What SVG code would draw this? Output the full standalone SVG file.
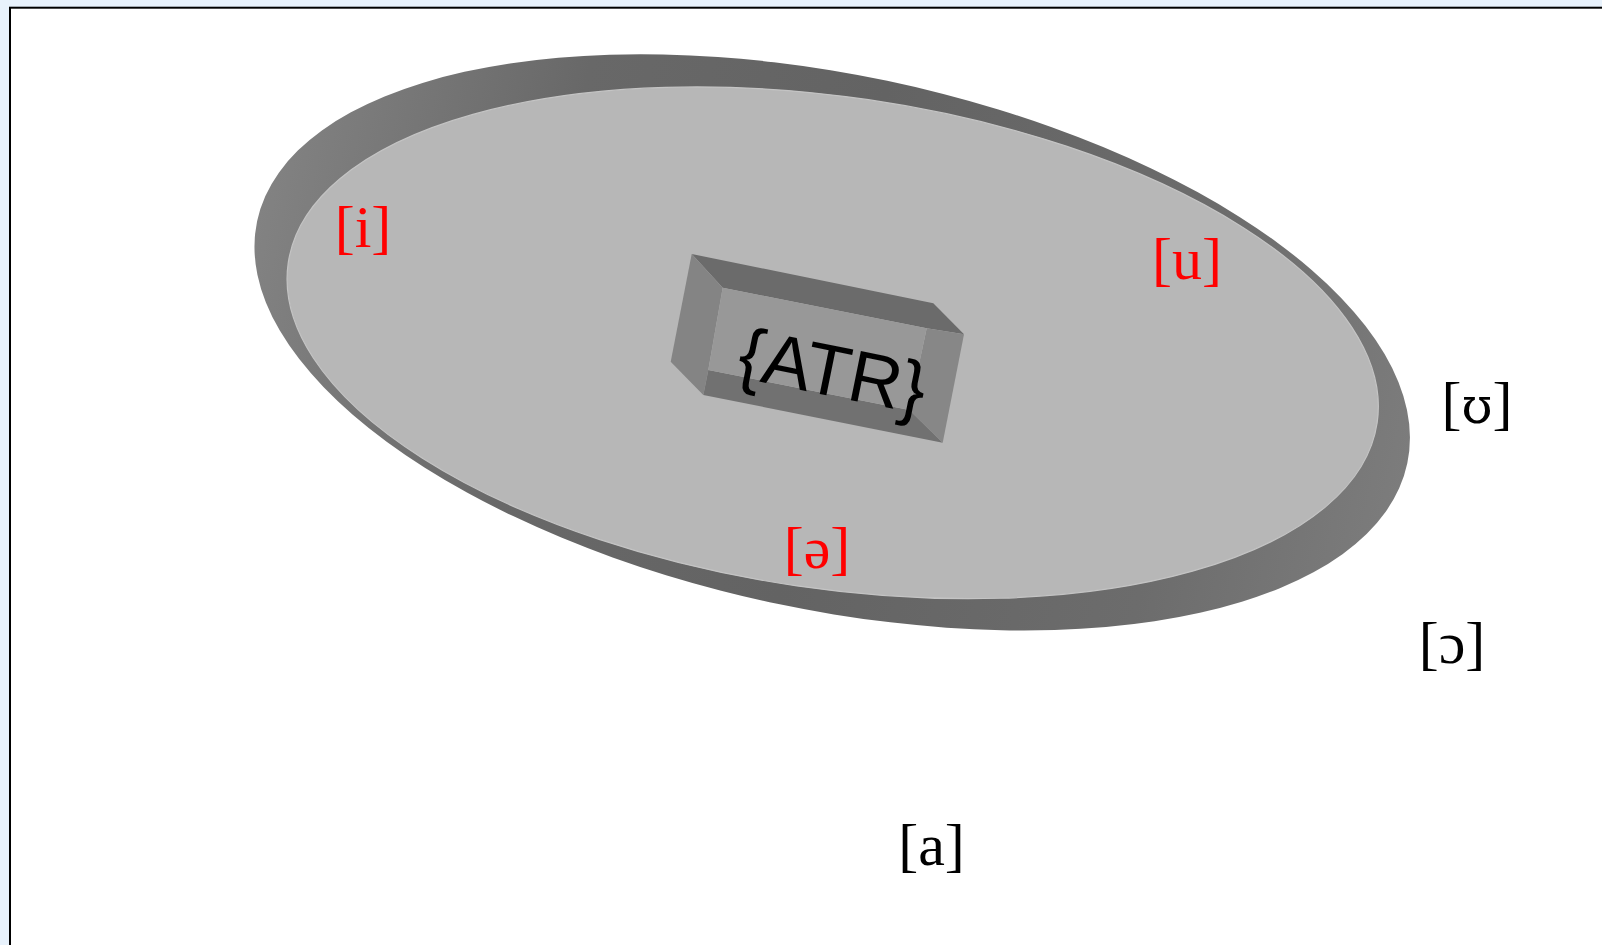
<svg xmlns="http://www.w3.org/2000/svg" width="1602" height="945" viewBox="0 0 1602 945">
  <defs>
    <linearGradient id="rim" x1="0" y1="0" x2="1" y2="0">
      <stop offset="0" stop-color="#828282"/>
      <stop offset="0.25" stop-color="#686868"/>
      <stop offset="0.5" stop-color="#636363"/>
      <stop offset="0.8" stop-color="#6c6c6c"/>
      <stop offset="1" stop-color="#7c7c7c"/>
    </linearGradient>
    <style>
      .ipa { font-family: "Liberation Serif", "DejaVu Serif", serif; font-size: 60px; text-anchor: middle; }
      .red { fill: #ff0000; }
      .blk { fill: #000000; }
      .alt { font-family: "DejaVu Serif", serif; font-size: 50px; }
      .atr { font-family: "Liberation Sans", Arial, sans-serif; font-size: 73px; text-anchor: middle; fill: #000000; }
    </style>
  </defs>
  <rect x="0" y="0" width="1602" height="945" fill="#e8f2fc"/>
  <rect x="10" y="7.7" width="1600" height="950" fill="#ffffff" stroke="#000000" stroke-width="2"/>

  <g id="disc">
    <ellipse cx="832.2" cy="342.3" rx="587.7" ry="267.2" transform="rotate(11.88 832.2 342.3)" fill="url(#rim)"/>
    <ellipse cx="832.7" cy="342.8" rx="550.3" ry="245.7" transform="rotate(8.35 832.7 342.8)" fill="#b7b7b7" stroke="#c4c4c4" stroke-width="1.2"/>
  </g>

  <g id="atr-box">
    <polygon points="691.7,254 933.3,303.3 964,334.3 926.7,328.3 722.7,287.7" fill="#6b6b6b"/>
    <polygon points="691.7,254 722.7,287.7 708.3,370 703.3,395 670.7,361.7" fill="#848484"/>
    <polygon points="926.7,328.3 964,334.3 942.7,442.7 909.3,410" fill="#878787"/>
    <polygon points="708.3,370 909.3,410 942.7,442.7 703.3,395" fill="#717171"/>
    <polygon points="722.7,287.7 926.7,328.3 909.3,410 708.3,370" fill="#989898"/>
    <text class="atr" transform="translate(832 375) rotate(11.5)" x="0" y="21">{ATR}</text>
  </g>

  <g id="label-i"><text class="ipa red" x="363" y="247">[i]</text></g>
  <g id="label-u"><text class="ipa red" x="1187" y="279">[u]</text></g>
  <g id="label-schwa"><text class="ipa red" x="817" y="568">[ə]</text></g>
  <g id="label-upsilon"><text class="ipa blk" x="1477" y="423">[<tspan class="alt">ʊ</tspan>]</text></g>
  <g id="label-open-o"><text class="ipa blk" x="1452" y="663">[ɔ]</text></g>
  <g id="label-a"><text class="ipa blk" x="931.5" y="865">[a]</text></g>
  <g id="connectors"/>
</svg>
